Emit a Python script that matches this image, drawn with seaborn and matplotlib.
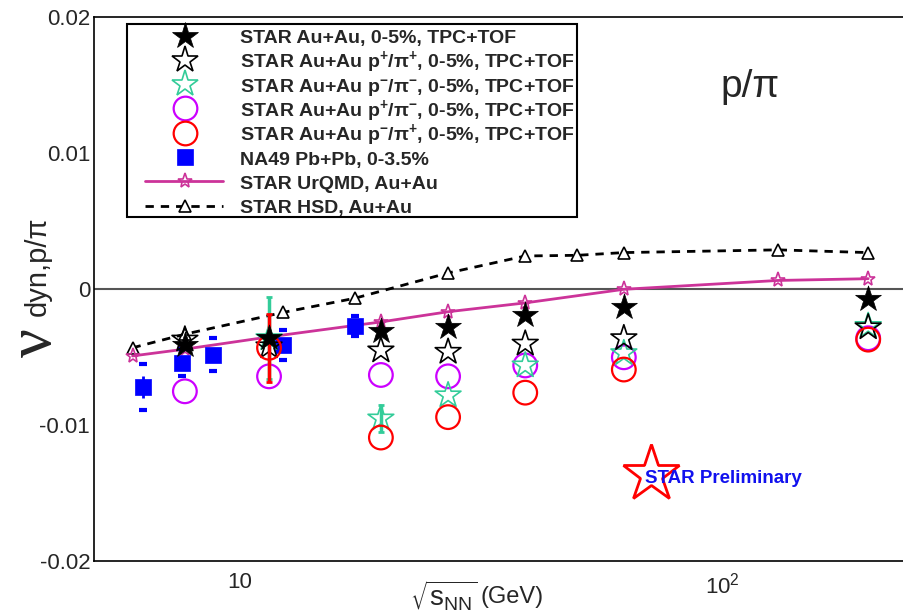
import numpy as np
import pandas as pd
import matplotlib
matplotlib.use("Agg")
import matplotlib.pyplot as plt
import seaborn as sns
from matplotlib.ticker import FixedLocator, FixedFormatter, NullFormatter, MultipleLocator, LogLocator
from matplotlib.patches import Rectangle

# ---------------- data ----------------
energy_star = [7.7, 11.5, 19.6, 27, 39, 62.4, 200]
vdyn_all = [-0.0041, -0.0036, -0.0031, -0.0028, -0.0019, -0.0013, -0.0007]
vdyn_pp_pip = [-0.0037, -0.0042, -0.0045, -0.0046, -0.0040, -0.0036, -0.0028]
vdyn_pp_pim = [-0.0075, -0.0064, -0.0063, -0.0064, -0.0056, -0.0050, -0.0036]

energy_pbar = [11.5, 19.6, 27, 39, 62.4, 200]
vdyn_pbar_pim = [-0.0036, -0.0095, -0.0078, -0.0056, -0.0047, -0.0027]
err_pbar_pim = [0.0030, 0.0010, 0.0, 0.0, 0.0, 0.0]
vdyn_pbar_pip = [-0.0043, -0.0109, -0.0094, -0.0076, -0.0059, -0.0037]
err_pbar_pip = [0.0025, 0.0, 0.0, 0.0, 0.0, 0.0]

energy_na49 = [6.3, 7.6, 8.8, 12.3, 17.3]
vdyn_na49 = [-0.0072, -0.0054, -0.0048, -0.0041, -0.0027]
stat_na49 = [0.0008, 0.0004, 0.0004, 0.0003, 0.0004]
sys_na49 = [0.0017, 0.0010, 0.0012, 0.0011, 0.0007]

energy_urqmd = [6.0, 7.7, 11.5, 19.6, 27, 39, 62.4, 130, 200]
vdyn_urqmd = [-0.0049, -0.0044, -0.0035, -0.0024, -0.00165, -0.0010, 0.0, 0.00065, 0.00078]

energy_hsd = [6.0, 7.7, 12.3, 17.3, 27, 39, 50, 62.4, 130, 200]
vdyn_hsd = [-0.0043, -0.0033, -0.0017, -0.00066, 0.0012, 0.00245, 0.0025, 0.0027, 0.0029, 0.0027]

labels = [
    "STAR Au+Au, 0-5%, TPC+TOF",
    r"STAR Au+Au p$^{+}$/$\pi^{+}$, 0-5%, TPC+TOF",
    r"STAR Au+Au p$^{-}$/$\pi^{-}$, 0-5%, TPC+TOF",
    r"STAR Au+Au p$^{+}$/$\pi^{-}$, 0-5%, TPC+TOF",
    r"STAR Au+Au p$^{-}$/$\pi^{+}$, 0-5%, TPC+TOF",
    "NA49 Pb+Pb, 0-3.5%",
    "STAR UrQMD, Au+Au",
    "STAR HSD, Au+Au",
]
xtick_vals = [10, 100]
xtick_labels = ["10", r"10$^{2}$"]
ytick_vals = [-0.02, -0.01, 0, 0.01, 0.02]
ytick_labels = ["-0.02", "-0.01", "0", "0.01", "0.02"]

# ---------------- style ----------------
sns.set_theme(style="white")
plt.rcParams["font.family"] = ["Liberation Sans", "DejaVu Sans"]
plt.rcParams["mathtext.default"] = "regular"

W, H = 904, 614
fig = plt.figure(figsize=(W / 100, H / 100), dpi=100)
ax_left, ax_right, ax_top, ax_bot = 94.3, 915.0, 17.3, 561.3
ax = fig.add_axes([ax_left / W, 1 - ax_bot / H, (ax_right - ax_left) / W, (ax_bot - ax_top) / H])
ax.set_facecolor("white")

GREEN = "#33cc99"
MAG = "#cc00ff"
URQ = "#cc3399"
S_STAR, S_CIRC, S_SQ = 380, 290, 120

ax.axhline(0, color="#555555", lw=1.5, zorder=1)

# models
hsd_style = dict(color="black", lw=2, linestyle=(0, (3, 2.5)), marker="^", markersize=9,
                 markerfacecolor="white", markeredgecolor="black", markeredgewidth=1.2)
urq_style = dict(color=URQ, lw=2, marker="*", markersize=11, markerfacecolor="none",
                 markeredgecolor=URQ, markeredgewidth=1.2)
sns.lineplot(x=energy_hsd, y=vdyn_hsd, ax=ax, sort=False, estimator=None, zorder=2, **hsd_style)
sns.lineplot(x=energy_urqmd, y=vdyn_urqmd, ax=ax, sort=False, estimator=None, zorder=2, **urq_style)

# NA49
ax.errorbar(energy_na49, vdyn_na49, yerr=stat_na49, fmt="none", ecolor="blue", elinewidth=2, capsize=0, zorder=3)
ax.plot(energy_na49, np.array(vdyn_na49) + np.array(sys_na49), ls="", marker="_", ms=6, mew=3, color="blue", zorder=3)
ax.plot(energy_na49, np.array(vdyn_na49) - np.array(sys_na49), ls="", marker="_", ms=6, mew=3, color="blue", zorder=3)
sns.scatterplot(x=energy_na49, y=vdyn_na49, ax=ax, marker="s", s=S_SQ, color="blue",
                edgecolor="blue", linewidth=0.5, zorder=3.5)


def errbars(x, y, e, col, z):
    sel = [i for i in range(len(e)) if e[i] > 0]
    ax.errorbar([x[i] for i in sel], [y[i] for i in sel], yerr=[e[i] for i in sel], fmt="none",
                ecolor=col, elinewidth=2.5, capsize=2, capthick=2, zorder=z)


# STAR data
sns.scatterplot(x=energy_star, y=vdyn_pp_pim, ax=ax, marker="o", s=S_CIRC, facecolor="none",
                edgecolor=MAG, linewidth=1.6, zorder=4)
errbars(energy_pbar, vdyn_pbar_pim, err_pbar_pim, GREEN, 4)
sns.scatterplot(x=energy_pbar, y=vdyn_pbar_pim, ax=ax, marker="*", s=S_STAR, facecolor="none",
                edgecolor=GREEN, linewidth=1.2, zorder=4.2)
sns.scatterplot(x=energy_star, y=vdyn_pp_pip, ax=ax, marker="*", s=S_STAR, facecolor="none",
                edgecolor="black", linewidth=1.2, zorder=4.5)
errbars(energy_pbar, vdyn_pbar_pip, err_pbar_pip, "red", 5)
sns.scatterplot(x=energy_pbar, y=vdyn_pbar_pip, ax=ax, marker="o", s=S_CIRC, facecolor="none",
                edgecolor="red", linewidth=1.6, zorder=5)
sns.scatterplot(x=energy_star, y=vdyn_all, ax=ax, marker="*", s=S_STAR, color="black",
                edgecolor="black", linewidth=0.5, zorder=6)

# axes
ax.set_xscale("log")
ax.set_xlim(5, 250)
ax.set_ylim(-0.02, 0.02)
ax.xaxis.set_major_locator(FixedLocator(xtick_vals))
ax.xaxis.set_major_formatter(FixedFormatter(xtick_labels))
ax.xaxis.set_minor_locator(LogLocator(base=10, subs=np.arange(2, 10)))
ax.xaxis.set_minor_formatter(NullFormatter())
ax.yaxis.set_major_locator(FixedLocator(ytick_vals))
ax.yaxis.set_major_formatter(FixedFormatter(ytick_labels))
ax.yaxis.set_minor_locator(MultipleLocator(0.002))
ax.tick_params(which="both", direction="in", top=False, right=False, color="black", width=1.0)
ax.tick_params(which="major", length=18, labelsize=16)
ax.tick_params(axis="x", which="major", pad=8)
ax.tick_params(axis="y", which="major", pad=3)
ax.tick_params(which="minor", length=9)
for side in ["left", "bottom", "top"]:
    ax.spines[side].set_color("black")
    ax.spines[side].set_linewidth(1.2)
ax.spines["right"].set_visible(False)
ax.set_xlabel("")
ax.set_ylabel("")
if ax.get_legend() is not None:
    ax.get_legend().remove()

# axis titles
fig.text(410 / W, 1 - 595 / H, r"$\sqrt{s_{NN}}$", fontsize=20, ha="left", va="center")
fig.text(480 / W, 1 - 597 / H, "(GeV)", fontsize=17, ha="left", va="center")

fig.text(36 / W, 1 - 343 / H, "ν", rotation=90, fontsize=46, ha="center", va="center",
         family=["Liberation Serif", "DejaVu Serif"])
fig.text(38 / W, 1 - 266 / H, "dyn,p/π", rotation=90, fontsize=21, ha="center", va="center")

fig.text(750 / W, 1 - 87 / H, "p/π", fontsize=28, ha="center", va="center")

# STAR preliminary logo
ax.plot([651 / W], [1 - 474 / H], marker="*", ms=43, mfc="white", mec="red", mew=2,
        transform=fig.transFigure, clip_on=False, zorder=7)
fig.text(645 / W, 1 - 483 / H, "STAR Preliminary", color="#1111ee", fontsize=13.5,
         fontweight="bold", ha="left", va="baseline", zorder=8)

# legend (ROOT-style box)
fig.add_artist(Rectangle((127 / W, 1 - 217 / H), 450 / W, 193 / H, transform=fig.transFigure,
                         fill=False, lw=1.5, ec="black"))
leg_styles = [
    dict(marker="*", ms=np.sqrt(S_STAR), mfc="black", mec="black", mew=0.5, ls=""),
    dict(marker="*", ms=np.sqrt(S_STAR), mfc="none", mec="black", mew=1.2, ls=""),
    dict(marker="*", ms=np.sqrt(S_STAR), mfc="none", mec=GREEN, mew=1.2, ls=""),
    dict(marker="o", ms=np.sqrt(S_CIRC), mfc="none", mec=MAG, mew=1.6, ls=""),
    dict(marker="o", ms=np.sqrt(S_CIRC), mfc="none", mec="red", mew=1.6, ls=""),
    dict(marker="s", ms=np.sqrt(S_SQ), mfc="blue", mec="blue", mew=0.5, ls=""),
]
for i, lab in enumerate(labels):
    yc = 1 - (35.5 + 24.3 * i) / H
    yb = 1 - (43.0 + 24.3 * i) / H
    if i < 6:
        ax.plot([185 / W], [yc], transform=fig.transFigure, clip_on=False, zorder=8, **leg_styles[i])
    else:
        st = urq_style if i == 6 else hsd_style
        ax.plot([145 / W, 223 / W], [yc, yc], transform=fig.transFigure, clip_on=False, zorder=8,
                color=st["color"], lw=st["lw"], ls=st.get("linestyle", "-"))
        ax.plot([185 / W], [yc], transform=fig.transFigure, clip_on=False, zorder=9, ls="",
                marker=st["marker"], ms=st["markersize"], mfc=st["markerfacecolor"],
                mec=st["markeredgecolor"], mew=st["markeredgewidth"])
    fig.text(240 / W, yb, lab, fontsize=14, fontweight="bold", ha="left", va="baseline")

fig.savefig("out.png", dpi=100)
